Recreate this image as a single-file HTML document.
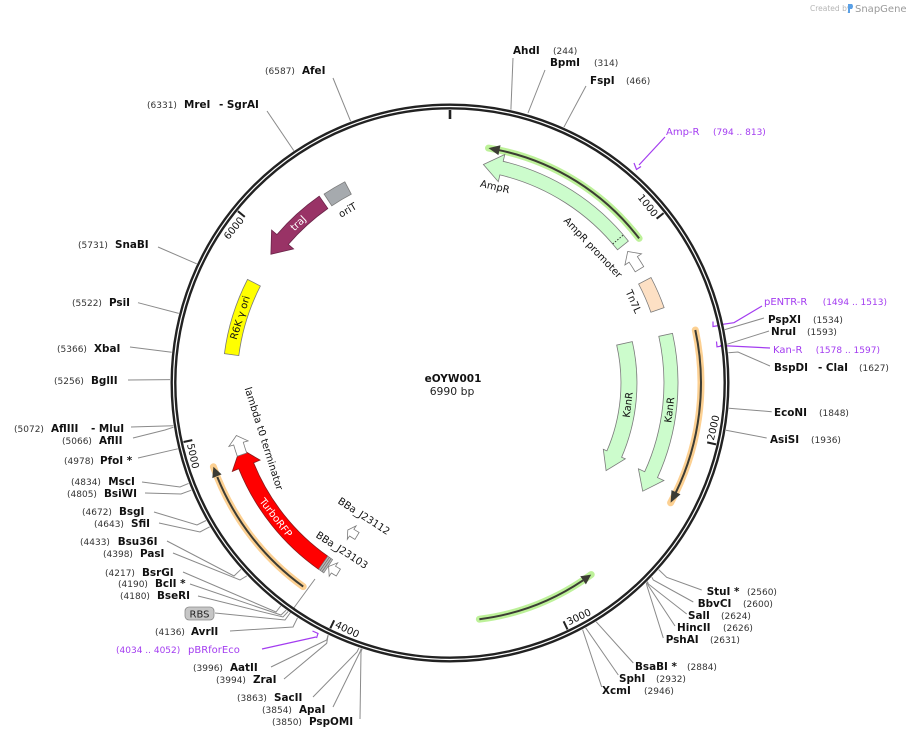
<!DOCTYPE html>
<html><head><meta charset="utf-8"><style>
html,body{margin:0;padding:0;background:#fff;}
svg{display:block;}
text{font-family:"DejaVu Sans","Liberation Sans",sans-serif;}
.b{font-weight:bold;font-size:10.4px;fill:#111;}
.n{font-size:9px;fill:#333;}
.p{font-size:10px;fill:#a33cf0;}
.pn{font-size:9px;fill:#a33cf0;}
.l{fill:none;stroke:#8a8a8a;stroke-width:1;}
.pl{fill:none;stroke:#a33cf0;stroke-width:1.2;}
.f{stroke:#7a7a7a;stroke-width:0.8;}
.fl{font-size:10px;fill:#111;}
</style></head><body>
<svg width="908" height="738" viewBox="0 0 908 738" xmlns="http://www.w3.org/2000/svg">
<rect width="908" height="738" fill="#fff"/>

<!-- Created by SnapGene -->
<text x="810" y="11" style="font-size:7.5px;fill:#b5b5b5">Created by</text>
<path d="M848,4 L852,4 Q854,6 852,9 L850,9 L850,13 L848,13 Z" fill="#5aa0e6"/>
<text x="855" y="12" style="font-size:10px;fill:#9a9a9a">SnapGene</text>

<!-- site lines -->
<g class="l">
<polyline points="510.9,109.7 513,58"/>
<polyline points="528,113 545,70"/>
<polyline points="563.9,127.2 586,86"/>
<polyline points="350.6,121.2 333,78"/>
<polyline points="293.8,150.6 267,111"/>
<polyline points="196.7,263.8 158,247"/>
<polyline points="178.8,313.4 138,302.7"/>
<polyline points="171.7,352.3 130,347"/>
<polyline points="170,379.6 128,380"/>
<polyline points="173.3,425.8 131,427"/>
<polyline points="173.5,427.2 165,430 133,438"/>
<polyline points="177.8,448.8 138,458"/>
<polyline points="188.6,483.4 180,487 142,482"/>
<polyline points="191.3,490.2 181,494 145,493"/>
<polyline points="206.1,520.5 197,525 154,512"/>
<polyline points="209.7,526.8 200,532 159,523"/>
<polyline points="241,569.3 234,576 167,541"/>
<polyline points="246.9,575.8 240,580 173,553"/>
<polyline points="280.7,606 276,612 183,572"/>
<polyline points="286.2,610.1 281,615 190,584"/>
<polyline points="288.2,611.5 283,617 198,596"/>
<polyline points="215,613 285,620 315,579"/>
<polyline points="297.5,617.8 293,627 230,631"/>
<polyline points="328.1,635.1 326.7,640 271,667"/>
<polyline points="328.1,635.1 326.7,643.3 284,679"/>
<polyline points="359,647.8 357,652 313,697"/>
<polyline points="361.2,648.5 360,652 333,707"/>
<polyline points="362.1,648.8 361,652 360,719"/>
<polyline points="658.7,569.6 666.7,577.3 701.7,590"/>
<polyline points="651.8,577.2 653.3,580 693.3,602"/>
<polyline points="647.5,581.5 648.3,584 686.7,614"/>
<polyline points="647.1,581.9 648,585 675,626"/>
<polyline points="646.3,582.7 647,586 663.3,638"/>
<polyline points="596.2,621.8 633.3,663"/>
<polyline points="585.7,627.9 618.3,675"/>
<polyline points="582.6,629.6 601.7,687"/>
<polyline points="724.8,329.6 764,318"/>
<polyline points="727.3,344.2 769,331"/>
<polyline points="728.4,352.7 738,352 770,366"/>
<polyline points="728.9,408.2 771.7,411.7"/>
<polyline points="726,430.2 766.7,438"/>
</g>

<!-- primer lines -->
<g class="pl">
<polyline points="665,137 639,165"/>
<path d="M634,163 L636.5,169.5 L641,166.5"/>
<polyline points="718,325 734,322.7 762,306"/>
<path d="M713,321.5 L713,326.5 L719,325.5"/>
<polyline points="720,345.5 770,348"/>
<path d="M716.5,341.5 L717,346.8 L722,346"/>
<polyline points="316,637 262,649"/>
<path d="M312.5,631 L318,633.5 L316.5,638"/>
</g>

<!-- ring -->
<circle cx="450" cy="383" r="276.5" fill="none" stroke="#222" stroke-width="6"/>
<circle cx="450" cy="383" r="276.5" fill="none" stroke="#fff" stroke-width="1.2"/>

<!-- ticks -->
<g stroke="#222" stroke-width="2">
<line x1="450" y1="119" x2="450" y2="110" stroke-width="2.6"/>
<line x1="656.6" y1="218.7" x2="663.6" y2="213.1"/>
<line x1="707.2" y1="442.4" x2="716.0" y2="444.4"/>
<line x1="563.6" y1="621.3" x2="567.5" y2="629.4"/>
<line x1="334.2" y1="620.3" x2="330.3" y2="628.3"/>
<line x1="192.3" y1="440.1" x2="183.5" y2="442.0"/>
<line x1="244.8" y1="216.9" x2="237.9" y2="211.2"/>
</g>
<g style="font-size:10px;fill:#111">
<text transform="translate(655.0,219.9) rotate(51.5)" text-anchor="end" dx="-3">1000</text>
<text transform="translate(246.4,218.1) rotate(-51)" text-anchor="end" dx="-3">6000</text>
<text transform="translate(713.1,443.8) rotate(-77)" dx="3">2000</text>
<text transform="translate(566.2,626.7) rotate(-25.5)" dx="3">3000</text>
<text transform="translate(331.6,625.6) rotate(26)" dx="3">4000</text>
<text transform="translate(186.4,441.4) rotate(77.5)" dx="3">5000</text>
</g>

<!-- ORFs -->
<g fill="none" stroke-linecap="round">
<path d="M639.1,238.4 A238 238 0 0 0 488.5,148.1" stroke="#b6f08e" stroke-width="7" opacity="0.9"/>
<path d="M583.1,580.3 A238 238 0 0 1 591.2,574.6 M479.4,619.2 A238 238 0 0 0 591.2,574.6" stroke="#b6f08e" stroke-width="7" opacity="0.9"/>
<path d="M695.3,330.0 A251 251 0 0 1 670.6,502.8" stroke="#fccb86" stroke-width="7" opacity="0.9"/>
<path d="M303.2,586.6 A251 251 0 0 1 213.4,466.8" stroke="#fccb86" stroke-width="7" opacity="0.9"/>
</g>
<g fill="none" stroke="#3c3c34" stroke-width="2">
<path d="M639.1,238.4 A238 238 0 0 0 497.5,149.8"/>
<path d="M479.4,619.2 A238 238 0 0 0 583.1,580.3"/>
<path d="M695.3,330.0 A251 251 0 0 1 675.6,493.0"/>
<path d="M303.2,586.6 A251 251 0 0 1 217.3,477.0"/>
</g>
<g fill="#3c3c34">
<polygon points="488.5,148.1 500.5,145.3 498.4,155.1"/>
<polygon points="591.2,574.6 580.3,576.2 585.9,584.4"/>
<polygon points="670.6,502.8 671.5,490.1 680.5,494.4"/>
<polygon points="213.4,466.8 221.6,474.4 212.3,478.1"/>
</g>

<!-- features -->
<path class="f" fill="#ccfccc" d="M628.4,241.1 A228 228 0 0 0 503.2,161.3 L504.8,154.5 L483.4,164.5 L498.3,181.7 L499.9,174.9 A214 214 0 0 1 617.5,249.8 Z"/>
<line x1="612.7" y1="244.0" x2="623.4" y2="234.9" stroke="#333" stroke-width="1" stroke-dasharray="1.5,1.5"/>
<path class="f" fill="#fff" d="M643.7,266.6 A226 226 0 0 0 637.4,256.6 L641.5,253.8 L627.7,251.5 L624.9,265.0 L629.1,262.2 A216 216 0 0 1 635.2,271.8 Z"/>
<path class="f" fill="#fde0c4" d="M651.0,277.5 A227 227 0 0 1 664.1,307.6 L650.9,312.2 A213 213 0 0 0 638.6,284.0 Z"/>
<path class="f" fill="#ccfccc" d="M616.7,345.1 A171 171 0 0 1 606.9,450.9 L603.3,449.3 L606.1,470.6 L625.3,458.8 L621.6,457.3 A187 187 0 0 0 632.3,341.6 Z"/>
<path class="f" fill="#ccfccc" d="M658.8,336.3 A214 214 0 0 1 644.7,471.7 L638.4,468.8 L642.7,491.2 L663.9,480.5 L657.5,477.6 A228 228 0 0 0 672.5,333.3 Z"/>
<path fill="#ff0000" stroke="#8a1a1a" stroke-width="0.8" d="M318.6,569.3 A228 228 0 0 1 238.8,468.8 L232.3,471.4 L240.1,448.4 L260.1,460.1 L253.6,462.8 A212 212 0 0 0 327.8,556.2 Z"/>
<polygon points="318.6,569.3 327.8,556.2 332.7,559.6 323.8,572.9" fill="#b8b8b8" stroke="#777" stroke-width="0.6"/>
<line x1="320.2" y1="570.4" x2="329.4" y2="557.3" stroke="#666" stroke-width="0.6"/>
<line x1="322.0" y1="571.7" x2="331.1" y2="558.5" stroke="#666" stroke-width="0.6"/>
<path class="f" fill="#fff" d="M336.3,576.0 A224 224 0 0 1 331.3,573.0 L329.2,576.3 L328.6,566.5 L337.7,562.8 L335.5,566.2 A216 216 0 0 0 340.4,569.1 Z"/>
<path class="f" fill="#fff" d="M354.9,539.4 A183 183 0 0 1 349.5,536.0 L347.3,539.3 L347.8,530.0 L356.1,525.9 L353.9,529.3 A175 175 0 0 0 359.1,532.5 Z"/>
<path class="f" fill="#fff" d="M246.7,453.0 A215 215 0 0 1 243.3,442.3 L248.1,440.9 L236.4,435.5 L228.9,446.4 L233.7,445.0 A225 225 0 0 0 237.3,456.3 Z"/>
<path class="f" fill="#ffff00" d="M224.4,353.7 A227.5 227.5 0 0 1 247.5,279.4 L260.4,286.0 A213 213 0 0 0 238.8,355.6 Z"/>
<path fill="#993366" stroke="#6a2448" stroke-width="0.8" d="M319.2,196.2 A228 228 0 0 0 276.9,234.6 L271.6,230.1 L270.9,254.3 L293.6,248.9 L288.3,244.4 A213 213 0 0 1 327.8,208.5 Z"/>
<path class="f" fill="#a6aaae" d="M324.1,194.1 A227 227 0 0 1 344.8,181.8 L351.3,194.2 A213 213 0 0 0 331.8,205.8 Z"/>

<!-- feature labels -->
<g class="fl" text-anchor="middle">
<text transform="translate(495,186.5) rotate(12.9)" dy="0.35em">AmpR</text>
<text transform="translate(593,247.5) rotate(46.5)" dy="0.35em">AmpR promoter</text>
<text transform="translate(633.5,301.5) rotate(66)" dy="0.35em">Tn7L</text>
<text transform="translate(627.7,404.8) rotate(-83)" dy="0.35em">KanR</text>
<text transform="translate(669.3,409.9) rotate(-83)" dy="0.35em">KanR</text>
<text transform="translate(275.9,517.5) rotate(52.3)" dy="0.35em" style="fill:#fff">TurboRFP</text>
<text transform="translate(298.2,223.0) rotate(-43.5)" dy="0.35em" style="fill:#fff">traJ</text>
<text transform="translate(239.9,317.6) rotate(-72.7)" dy="0.35em">R6K γ ori</text>
<text transform="translate(347.5,210) rotate(-30.6)" dy="0.35em">oriT</text>
<text transform="translate(264,438.5) rotate(72.5)" dy="0.35em">lambda t0 terminator</text>
<text transform="translate(364,516) rotate(33)" dy="0.35em">BBa_J23112</text>
<text transform="translate(342,550) rotate(33)" dy="0.35em">BBa_J23103</text>
</g>

<!-- center -->
<text x="453" y="382" text-anchor="middle" style="font-weight:bold;font-size:10.5px;fill:#111">eOYW001</text>
<text x="452" y="395" text-anchor="middle" style="font-size:10.8px;fill:#222">6990 bp</text>

<!-- right labels -->
<text class="b" x="513" y="54">AhdI</text><text class="n" x="553" y="54">(244)</text>
<text class="b" x="550" y="66">BpmI</text><text class="n" x="594" y="66">(314)</text>
<text class="b" x="590" y="84">FspI</text><text class="n" x="626" y="84">(466)</text>
<text class="p" x="666" y="135">Amp-R</text><text class="pn" x="713" y="135">(794 .. 813)</text>
<text class="p" x="764" y="305">pENTR-R</text><text class="pn" x="822.7" y="305">(1494 .. 1513)</text>
<text class="b" x="768" y="323">PspXI</text><text class="n" x="813" y="323">(1534)</text>
<text class="b" x="771" y="335">NruI</text><text class="n" x="807" y="335">(1593)</text>
<text class="p" x="773" y="353">Kan-R</text><text class="pn" x="815.7" y="353">(1578 .. 1597)</text>
<text class="b" x="774" y="371">BspDI</text><text class="b" x="818" y="371">- ClaI</text><text class="n" x="859" y="371">(1627)</text>
<text class="b" x="774" y="416">EcoNI</text><text class="n" x="819" y="416">(1848)</text>
<text class="b" x="770" y="443">AsiSI</text><text class="n" x="811" y="443">(1936)</text>
<text class="b" x="706.7" y="595">StuI *</text><text class="n" x="747" y="595">(2560)</text>
<text class="b" x="697.7" y="607">BbvCI</text><text class="n" x="743" y="607">(2600)</text>
<text class="b" x="688" y="619">SalI</text><text class="n" x="721" y="619">(2624)</text>
<text class="b" x="677" y="631">HincII</text><text class="n" x="723" y="631">(2626)</text>
<text class="b" x="665.7" y="643">PshAI</text><text class="n" x="710" y="643">(2631)</text>
<text class="b" x="635" y="670">BsaBI *</text><text class="n" x="687" y="670">(2884)</text>
<text class="b" x="619" y="682">SphI</text><text class="n" x="656" y="682">(2932)</text>
<text class="b" x="602" y="694">XcmI</text><text class="n" x="644" y="694">(2946)</text>

<!-- left labels -->
<text class="n" x="265" y="74">(6587)</text><text class="b" x="302" y="74">AfeI</text>
<text class="n" x="147" y="108">(6331)</text><text class="b" x="184" y="108">MreI</text><text class="b" x="219" y="108">- SgrAI</text>
<text class="n" x="78" y="248">(5731)</text><text class="b" x="115" y="248">SnaBI</text>
<text class="n" x="72" y="306">(5522)</text><text class="b" x="109" y="306">PsiI</text>
<text class="n" x="57" y="352">(5366)</text><text class="b" x="94" y="352">XbaI</text>
<text class="n" x="54" y="384">(5256)</text><text class="b" x="91" y="384">BglII</text>
<text class="n" x="14" y="432">(5072)</text><text class="b" x="51" y="432">AflIII</text><text class="b" x="91" y="432">- MluI</text>
<text class="n" x="62" y="444">(5066)</text><text class="b" x="99" y="444">AflII</text>
<text class="n" x="64" y="464">(4978)</text><text class="b" x="100" y="464">PfoI *</text>
<text class="n" x="71" y="485">(4834)</text><text class="b" x="108.3" y="485">MscI</text>
<text class="n" x="67" y="497">(4805)</text><text class="b" x="104" y="497">BsiWI</text>
<text class="n" x="82" y="515">(4672)</text><text class="b" x="119" y="515">BsgI</text>
<text class="n" x="94" y="527">(4643)</text><text class="b" x="131" y="527">SfiI</text>
<text class="n" x="80" y="545">(4433)</text><text class="b" x="117.7" y="545">Bsu36I</text>
<text class="n" x="103" y="557">(4398)</text><text class="b" x="140" y="557">PasI</text>
<text class="n" x="105" y="576">(4217)</text><text class="b" x="142" y="576">BsrGI</text>
<text class="n" x="118" y="587">(4190)</text><text class="b" x="155" y="587">BclI *</text>
<text class="n" x="120" y="599">(4180)</text><text class="b" x="157" y="599">BseRI</text>
<rect x="185" y="607" width="29" height="13" rx="4" fill="#c6c6c6" stroke="#8a8a8a" stroke-width="0.8"/>
<text x="199.5" y="617.5" text-anchor="middle" style="font-size:10px;fill:#222">RBS</text>
<text class="n" x="155" y="635">(4136)</text><text class="b" x="191" y="635">AvrII</text>
<text class="pn" x="116" y="653">(4034 .. 4052)</text><text class="p" x="188" y="653">pBRforEco</text>
<text class="n" x="193" y="671">(3996)</text><text class="b" x="230" y="671">AatII</text>
<text class="n" x="216" y="683">(3994)</text><text class="b" x="253" y="683">ZraI</text>
<text class="n" x="237" y="701">(3863)</text><text class="b" x="274" y="701">SacII</text>
<text class="n" x="262" y="713">(3854)</text><text class="b" x="299" y="713">ApaI</text>
<text class="n" x="272" y="725">(3850)</text><text class="b" x="309" y="725">PspOMI</text>
</svg>
</body></html>
